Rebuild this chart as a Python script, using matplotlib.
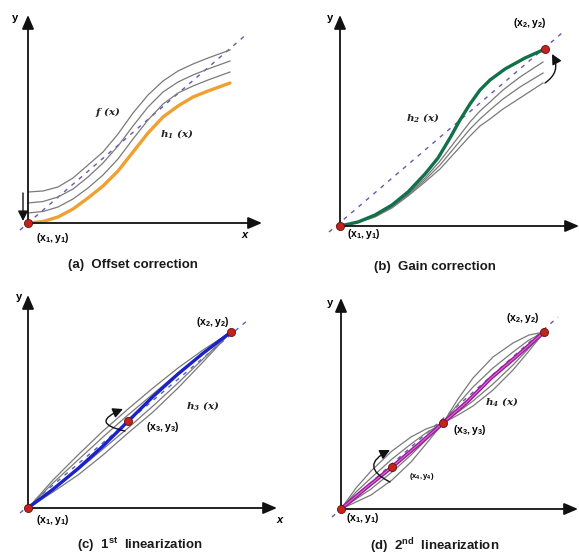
import matplotlib
matplotlib.use("Agg")
import matplotlib.pyplot as plt

# ---- data (local units, origin at the axes corner) ----
# (a) offset correction
a_x = [0, 15, 30, 45, 60, 75, 90, 105, 120, 135, 150, 165, 180, 202]
a_f3 = [31, 32, 36, 45, 58, 71, 89, 110, 128, 142, 152, 159, 165, 173]
a_f2 = [20, 21.5, 26, 34, 46, 60, 77, 97, 116, 131, 141, 148, 154, 162]
a_f1 = [10, 11.5, 16, 24, 35, 48, 64, 84, 103, 119, 130, 137, 143, 151]
a_h1 = [0, 1.5, 6, 14, 25, 37, 52, 71, 90, 106, 117, 126, 132, 140]
a_ideal_x = [-8, 220]
a_ideal_y = [-7, 190]

# (b) gain correction
b_x = [0, 18, 35, 52, 68, 85, 100, 110, 120, 130, 140, 150, 163, 180, 203]
b_g1 = [0, 4, 10, 20, 32, 48, 65, 78, 91, 104, 115, 124, 136, 149, 164]
b_g2 = [0, 4, 10, 19, 31, 46, 61, 73, 85, 97, 107, 116, 127, 139, 153]
b_g3 = [0, 3.5, 9, 18, 30, 44, 57, 68, 79, 90, 100, 107, 117, 128, 143]
b_h2x = [0, 18, 35, 52, 68, 85, 98, 110, 120, 130, 140, 150, 165, 185, 205]
b_h2y = [0, 4, 11, 21, 34, 52, 68, 88, 106, 122, 136, 146, 157, 168, 177]
b_ideal_x = [-11, 222]
b_ideal_y = [-6, 193]

# (c) 1st linearization
c_x = [0, 25, 50, 75, 100, 125, 150, 175, 203]
c_up2 = [0, 28, 53, 77, 99, 120, 140, 158, 176]
c_up1 = [0, 25, 48, 71, 93, 114, 135, 155, 176]
c_lo1 = [0, 18, 38, 59, 80, 102, 125, 149, 176]
c_lo2 = [0, 16, 33, 53, 75, 96, 120, 146, 176]
c_h3 = [0, 18.7, 39.4, 62, 86.7, 111.4, 134, 154.7, 176]
c_ideal_x = [-8, 220]
c_ideal_y = [-5, 188]

# (d) 2nd linearization
d_xl = [0, 15, 30, 51, 70, 85, 102]
d_l_up2 = [0, 21, 38, 58, 72, 80, 86]
d_l_up1 = [0, 17, 31, 50, 65, 76, 86]
d_l_lo1 = [0, 10, 20, 37, 54, 69, 86]
d_l_lo2 = [0, 7, 14, 29, 47, 65, 86]
d_xu = [102, 117, 132, 152, 172, 188, 203]
d_u_up2 = [86, 110, 131, 152, 166, 174, 177]
d_u_up1 = [86, 105, 122, 141, 157, 169, 177]
d_u_lo1 = [86, 97, 108, 125, 144, 161, 177]
d_u_lo2 = [86, 94, 103, 119, 139, 158, 177]
d_h4x = [0, 25, 51, 77, 102, 127, 150, 177, 203]
d_h4y = [0, 21, 42, 64, 86, 108, 131, 154, 177]
d_ideal_x = [-9, 217]
d_ideal_y = [-8, 192]

# calibration points
a_pts = [(0, 0)]
b_pts = [(0, 0), (205, 177)]
c_pts = [(0, 0), (100, 87), (203, 176)]
d_pts = [(0, 0), (51, 42), (102, 86), (203, 177)]

W, H = 579, 558
fig = plt.figure(figsize=(W / 100, H / 100), dpi=100)

GRAY = '#7a7a7a'
DASH = '#6a55b0'
RED = '#c0241c'
SANS = 'Liberation Sans'
SLAB = 'DejaVu Serif'


def panel(ox, oy, left, top, w, h):
    """axes covering a pixel block, unit = 1 px, origin at (ox, oy)"""
    ax = fig.add_axes([left / W, 1 - (top + h) / H, w / W, h / H])
    ax.set_xlim(left - ox, left + w - ox)
    ax.set_ylim(oy - (top + h), oy - top)
    ax.axis('off')
    return ax


def axes_arrows(ax, xlen, ylen, ylab, xlab=None):
    kw = dict(arrowstyle='-|>,head_length=0.7,head_width=0.3', color='#111111',
              lw=1.3, shrinkA=0, shrinkB=0, mutation_scale=12)
    ax.annotate('', xy=(0, ylen), xytext=(0, 0), arrowprops=kw)
    ax.annotate('', xy=(xlen, 0), xytext=(0, 0), arrowprops=kw)
    ax.text(ylab[0], ylab[1], 'y', fontsize=8, fontweight='bold',
            family=SANS, ha='center', va='center')
    if xlab is not None:
        ax.text(xlab[0], xlab[1], 'x', fontsize=8, fontweight='bold',
                family=SANS, style='italic', ha='center', va='center')


def loop_arrow(ax, start, end, rad):
    ax.annotate('', xy=end, xytext=start,
                arrowprops=dict(arrowstyle='-|>,head_length=0.6,head_width=0.3',
                                color='#111111', lw=1.0, mutation_scale=10,
                                connectionstyle='arc3,rad=%s' % rad,
                                shrinkA=0, shrinkB=0))


def dots(ax, pts, s=34):
    ax.scatter([p[0] for p in pts], [p[1] for p in pts], s=s, color=RED,
               edgecolor='#6a0d0d', linewidth=0.6, zorder=6)


def coord(ax, x, y, s, size=7.5):
    ax.text(x, y, r'$\mathregular{%s}$' % s, fontsize=size, family=SANS,
            fontweight='bold', ha='center', va='center', zorder=7)


def func(ax, x, y, s):
    ax.text(x, y, r'$\mathregular{%s}$' % s, fontsize=7.5, family=SLAB,
            fontweight='bold', style='italic', ha='center', va='center',
            color='#222222', zorder=7)


def title(ax, x, y, s):
    ax.text(x, y, s, fontsize=9.5, fontweight='bold', family=SANS,
            ha='center', va='center', color='#1a1a1a')


# ---------------- (a) ----------------
ax = panel(28, 223, 0, 0, 290, 280)
axes_arrows(ax, 234, 208, (-13, 205), (217, -12))
ax.plot(a_ideal_x, a_ideal_y, color=DASH, lw=1, dashes=(3, 4))
for yy in (a_f1, a_f2, a_f3):
    ax.plot(a_x, yy, color=GRAY, lw=0.9)
ax.plot(a_x, a_h1, color='#f0a030', lw=2.4, solid_capstyle='round')
loop_arrow(ax, (-5, 30), (-5, 2), 0)
dots(ax, a_pts)
func(ax, 80, 111, r'f\ (x)')
func(ax, 149, 90, r'h_1\ (x)')
coord(ax, 25, -15, '(x_1,y_1)')
title(ax, 105, -42, '(a)  Offset correction')

# ---------------- (b) ----------------
ax = panel(340, 226, 290, 0, 289, 280)
axes_arrows(ax, 239, 211, (-10, 208))
ax.plot(b_ideal_x, b_ideal_y, color=DASH, lw=1, dashes=(3, 4))
for yy in (b_g1, b_g2, b_g3):
    ax.plot(b_x, yy, color=GRAY, lw=0.9)
ax.plot(b_h2x, b_h2y, color='#12704a', lw=2.4, solid_capstyle='round')
loop_arrow(ax, (205, 143), (212, 172), 0.45)
dots(ax, b_pts)
func(ax, 83, 108, r'h_2\ (x)')
coord(ax, 190, 203, '(x_2,y_2)')
coord(ax, 24, -8, '(x_1,y_1)')
title(ax, 95, -41, '(b)  Gain correction')

# ---------------- (c) ----------------
ax = panel(28, 508, 0, 280, 290, 278)
axes_arrows(ax, 249, 213, (-9, 211), (252, -12))
ax.plot(c_ideal_x, c_ideal_y, color='#5560c8', lw=1, dashes=(3, 4))
for yy in (c_up2, c_up1, c_lo1, c_lo2):
    ax.plot(c_x, yy, color=GRAY, lw=0.9)
ax.plot(c_x, c_h3, color='#1a22c8', lw=2.4, solid_capstyle='round')
loop_arrow(ax, (97, 77), (95, 99), -1.6)
dots(ax, c_pts)
func(ax, 175, 103, r'h_3\ (x)')
coord(ax, 185, 186, '(x_2,y_2)')
coord(ax, 135, 81, '(x_3,y_3)')
coord(ax, 25, -12, '(x_1,y_1)')
title(ax, 112, -37, r'(c)  1$\mathregular{^{st}}$  linearization')

# ---------------- (d) ----------------
ax = panel(341, 509, 290, 280, 289, 278)
axes_arrows(ax, 237, 211, (-11, 206))
ax.plot(d_ideal_x, d_ideal_y, color=DASH, lw=1, dashes=(3, 4))
for yy in (d_l_up2, d_l_up1, d_l_lo1, d_l_lo2):
    ax.plot(d_xl, yy, color=GRAY, lw=0.9)
for yy in (d_u_up2, d_u_up1, d_u_lo1, d_u_lo2):
    ax.plot(d_xu, yy, color=GRAY, lw=0.9)
ax.plot(d_h4x, d_h4y, color='#a0189c', lw=2.8, solid_capstyle='round')
ax.plot(d_h4x, d_h4y, color='#d070d0', lw=0.8)
loop_arrow(ax, (49, 27), (49, 59), -1.0)
dots(ax, d_pts)
func(ax, 161, 107, r'h_4\ (x)')
coord(ax, 182, 191, '(x_2,y_2)')
coord(ax, 129, 79, '(x_3,y_3)')
coord(ax, 81, 32, '(x_4,y_4)', 5.5)
coord(ax, 22, -9, '(x_1,y_1)')
title(ax, 94, -37, r'(d)  2$\mathregular{^{nd}}$  linearization')

fig.savefig('out.png', dpi=100)
